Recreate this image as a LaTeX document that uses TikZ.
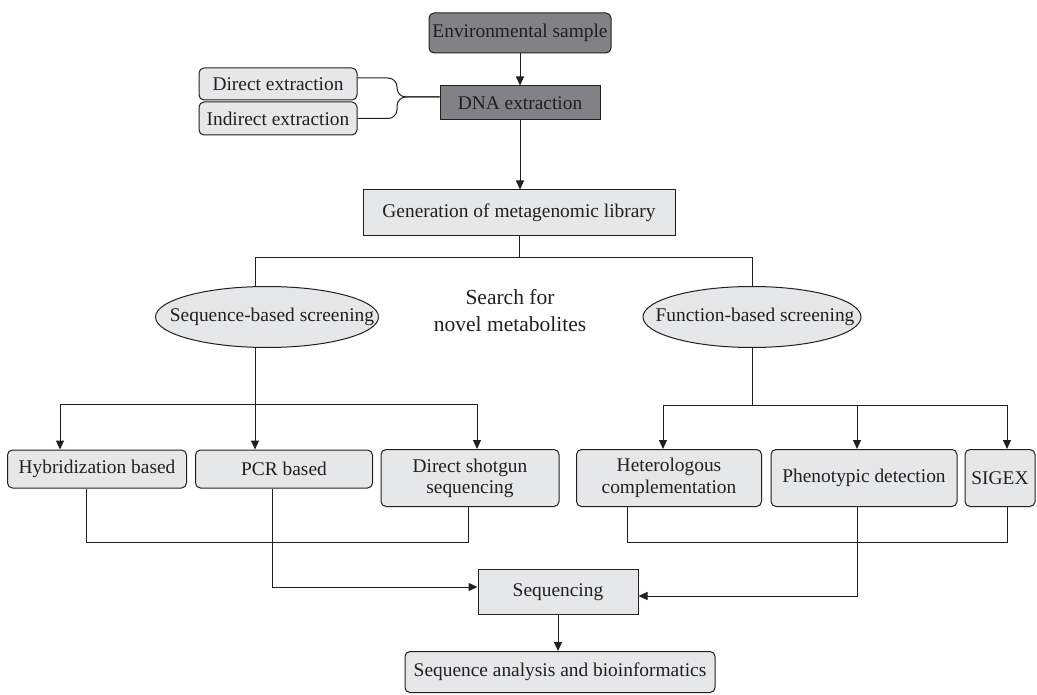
\documentclass[tikz,border=0pt]{standalone}
\usepackage{fontspec}
\setmainfont{Liberation Serif}
\usepackage{tikz}
\usetikzlibrary{positioning,arrows.meta,shapes.geometric}
\definecolor{ink}{HTML}{231F20}
\definecolor{darkfill}{HTML}{808285}
\definecolor{lightfill}{HTML}{E6E7E8}
\tikzset{
  box/.style  ={draw=ink, line width=1pt, text=ink, align=center, inner sep=2pt,
                font=\fontsize{19.4}{21}\selectfont},
  dark/.style ={box, fill=darkfill},
  plain/.style={box, fill=lightfill},
  soft/.style ={plain, rounded corners=5pt},
  oval/.style ={box, ellipse, fill=lightfill, inner sep=0pt},
  ln/.style   ={draw=ink, line width=1pt},
  fl/.style   ={ln, -{Triangle[length=9pt,width=8pt]}},
}

\begin{document}
\begin{tikzpicture}[x=1pt, y=-1pt]
  \useasboundingbox (0,0) rectangle (1037,695);

  % --- sample and extraction ------------------------------------------
  \node[dark, rounded corners=5pt, minimum width=182pt, minimum height=40pt] (env)
        at (520,33) {Environmental sample};
  \node[dark, minimum width=160pt, minimum height=34pt] (dna)
        at (520,103) {DNA extraction};
  \node[soft, minimum width=158pt, minimum height=32pt] (direct)
        at (278,84) {Direct extraction};
  \node[soft, minimum width=158pt, minimum height=33pt, below=1pt of direct] (indirect)
        {Indirect extraction};
  \node[plain, minimum width=312pt, minimum height=46pt] (gen)
        at (519,213) {Generation of metagenomic library};

  % --- the two screening routes ---------------------------------------
  \node[oval, minimum width=223pt, minimum height=61pt] (seqscr)
        at (267,317) {\makebox[0pt]{\hspace*{10pt}Sequence-based screening}};
  \node[oval, minimum width=218pt, minimum height=61pt] (funscr)
        at (752,317) {\makebox[0pt]{\hspace*{6pt}Function-based screening}};
  \node[text=ink, align=center, font=\fontsize{21.5}{27}\selectfont] (search)
        at (510,311) {Search for\\novel metabolites};

  \node[soft, minimum width=179pt, minimum height=38pt] (hyb)
        at (97,469) {Hybridization based};
  \node[soft, minimum width=177pt, minimum height=38pt] (pcr)
        at (284,469) {PCR based};
  \node[soft, minimum width=178pt, minimum height=57pt] (shot)
        at (470,478) {Direct shotgun\\sequencing};
  \node[soft, minimum width=185pt, minimum height=57pt, font=\fontsize{19.4}{22}\selectfont] (het)
        at (669,478) {Heterologous\\complementation};
  \node[soft, minimum width=186pt, minimum height=57pt] (phen)
        at (864,478) {Phenotypic detection};
  \node[soft, minimum width=70pt, minimum height=57pt] (sigex)
        at (1000,478) {SIGEX};

  \node[plain, minimum width=160pt, minimum height=45pt] (seqing)
        at (558,592) {Sequencing};
  \node[soft, minimum width=310pt, minimum height=41pt] (analysis)
        at (560,672) {Sequence analysis and bioinformatics};

  % --- bend points ----------------------------------------------------
  \coordinate (brace)  at (397,97);
  \coordinate (tsplit) at (519,258);
  \coordinate (lstem)  at (255,258);
  \coordinate (rstem)  at (752,258);
  \coordinate (lsplit) at (255,404);
  \coordinate (lleft)  at (60,404);
  \coordinate (lright) at (477,404);
  \coordinate (rsplit) at (752,405);
  \coordinate (rleft)  at (663,405);
  \coordinate (rmid)   at (857,405);
  \coordinate (rright) at (1007,405);
  \coordinate (lc1)    at (86,542);
  \coordinate (lc2)    at (468,542);
  \coordinate (rc1)    at (627,542);
  \coordinate (rc2)    at (1007,542);
  \coordinate (pbend)  at (272,587);
  \coordinate (qbend)  at (857,596);

  % --- connectors -----------------------------------------------------
  \draw[fl] (env) -- (dna);
  \draw[ln, rounded corners=9pt] ([yshift=6pt]direct.east) -| (brace) -- (brace -| dna.west);
  \draw[ln, rounded corners=9pt] (indirect.east) -| (brace) -- (brace -| dna.west);
  \draw[fl] (dna.south) -- (dna.south |- gen.north);

  \draw[ln] (gen.south) -- (tsplit);
  \draw[ln] (lstem |- seqscr.north) -- (lstem) -- (rstem) -- (rstem |- funscr.north);

  \draw[ln] (lstem |- seqscr.south) -- (lsplit);
  \draw[fl] (lsplit) -- (lsplit |- pcr.north);
  \draw[fl] (lsplit) -| (lleft |- hyb.north);
  \draw[fl] (lsplit) -| (lright |- shot.north);

  \draw[ln] (rstem |- funscr.south) -- (rsplit);
  \draw[fl] (rsplit) -| (rleft |- het.north);
  \draw[fl] (rsplit) -| (rright |- sigex.north);
  \draw[fl] (rmid) -- (rmid |- phen.north);

  \draw[ln] (lc1 |- hyb.south) -- (lc1) -- (lc2) -- (lc2 |- shot.south);
  \draw[ln] (rc1 |- het.south) -- (rc1) -- (rc2) -- (rc2 |- sigex.south);
  \draw[fl] (pbend |- pcr.south) -- (pbend) -- (pbend -| seqing.west);
  \draw[fl] (qbend |- phen.south) -- (qbend) -- (qbend -| seqing.east);
  \draw[fl] (seqing) -- (seqing |- analysis.north);
\end{tikzpicture}
\end{document}
